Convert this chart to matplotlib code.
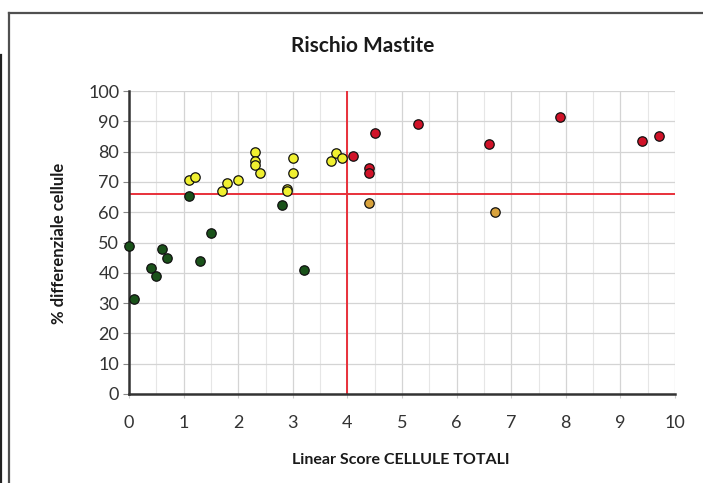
import matplotlib
matplotlib.use("Agg")
import matplotlib.pyplot as plt
from matplotlib.lines import Line2D
from matplotlib.ticker import MultipleLocator

# punti
verde_x = [0.0, 0.1, 0.4, 0.5, 0.6, 0.7, 1.1, 1.3, 1.5, 2.8, 3.2]
verde_y = [49, 31.5, 41.5, 39, 48, 45, 65.5, 44, 53, 62.5, 41]

giallo_x = [1.1, 1.2, 1.7, 1.8, 2.0, 2.3, 2.3, 2.3, 2.4, 2.9, 2.9, 3.0, 3.0, 3.7, 3.8, 3.9]
giallo_y = [70.5, 71.5, 67, 69.5, 70.5, 80, 77, 75.5, 73, 67.5, 67, 78, 73, 77, 79.5, 78]

rosso_x = [4.1, 4.4, 4.4, 4.5, 5.3, 6.6, 7.9, 9.4, 9.7]
rosso_y = [78.5, 74.5, 73, 86, 89, 82.5, 91.5, 83.5, 85]

arancio_x = [4.4, 6.7]
arancio_y = [63, 60]

soglia_x = 4
soglia_y = 66

plt.rcParams['font.family'] = ['Lato', 'DejaVu Sans']

fig = plt.figure(figsize=(7.03, 4.83), dpi=100)
W, H = 703, 483

# cornice del grafico (tagliata a destra e in basso)
fig.lines.append(Line2D([8.5 / W, 8.5 / W], [-0.05, 1 - 12.5 / H],
                        transform=fig.transFigure, color='#505050', linewidth=1.6,
                        solid_capstyle='projecting'))
fig.lines.append(Line2D([8.5 / W, 1.1], [1 - 12.5 / H, 1 - 12.5 / H],
                        transform=fig.transFigure, color='#505050', linewidth=1.6))
fig.lines.append(Line2D([0.8 / W, 0.8 / W], [-0.05, 1 - 55 / H],
                        transform=fig.transFigure, color='#222222', linewidth=1.6))

ax = fig.add_axes([129 / W, 1 - 394 / H, 546 / W, 303 / H])

ax.set_xlim(0, 10)
ax.set_ylim(0, 100)
ax.xaxis.set_major_locator(MultipleLocator(1))
ax.xaxis.set_minor_locator(MultipleLocator(0.5))
ax.yaxis.set_major_locator(MultipleLocator(10))

ax.grid(True, which='major', color='#d4d4d4', linewidth=0.9)
ax.grid(True, which='minor', axis='x', color='#e6e6e6', linewidth=0.8)
ax.set_axisbelow(True)

for s in ['top', 'right']:
    ax.spines[s].set_visible(False)
for s in ['left', 'bottom']:
    ax.spines[s].set_color('#333333')
    ax.spines[s].set_linewidth(1.8)

ax.tick_params(axis='y', which='major', length=4, width=0.8, color='#888888',
               labelsize=13, labelcolor='#333333', pad=3)
ax.tick_params(axis='x', which='major', length=3, width=0.8, color='#cccccc',
               labelsize=13, labelcolor='#333333', pad=12)
ax.tick_params(axis='x', which='minor', length=0)

ax.axvline(soglia_x, color='#e8303a', linewidth=1.4, zorder=2)
ax.axhline(soglia_y, color='#e8303a', linewidth=1.4, zorder=2)

kw = dict(s=46, edgecolors='#111111', linewidths=0.9, zorder=3, clip_on=False)
ax.scatter(verde_x, verde_y, c='#1a521a', **kw)
ax.scatter(giallo_x, giallo_y, c='#f0f030', **kw)
ax.scatter(rosso_x, rosso_y, c='#d01228', **kw)
ax.scatter(arancio_x, arancio_y, c='#d8a23c', **kw)

fig.text(363 / W, 1 - 46 / H, 'Rischio Mastite', ha='center', va='center',
         fontsize=15, fontweight='bold', color='#1a1a1a')
fig.text(401 / W, 1 - 460 / H, 'Linear Score CELLULE TOTALI', ha='center', va='center',
         fontsize=11.5, fontweight='bold', color='#1a1a1a')
fig.text(59 / W, 1 - 243 / H, '% differenziale cellule', ha='center', va='center',
         rotation=90, fontsize=12, fontweight='bold', color='#1a1a1a')

plt.savefig('out.png', dpi=100)
